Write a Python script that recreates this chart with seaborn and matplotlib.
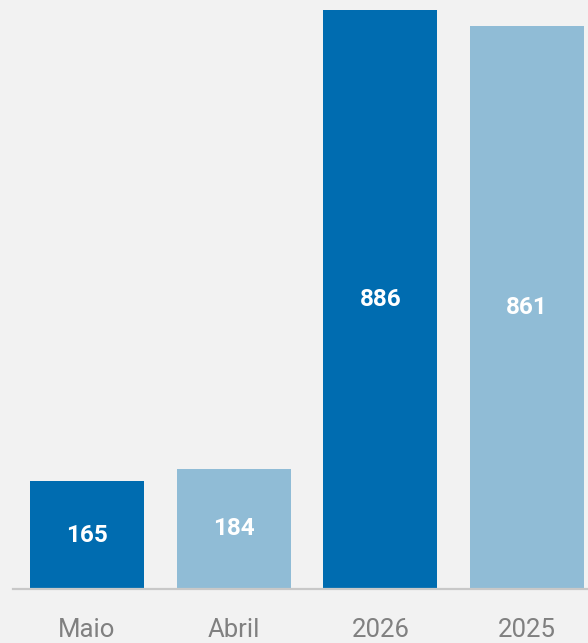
import matplotlib
matplotlib.use("Agg")
from matplotlib import pyplot as plt
import pandas as pd
import seaborn as sns

categories = ["Maio", "Abril", "2026", "2025"]
values = [165, 184, 886, 861]
bar_colors = ["#006cb0", "#90bcd6", "#006cb0", "#90bcd6"]

df = pd.DataFrame({"periodo": categories, "total": values})

sns.set_style("white")
plt.rcParams["font.family"] = ["Roboto", "DejaVu Sans"]

bg = "#f2f2f2"
fig = plt.figure(figsize=(5.88, 6.43), dpi=100, facecolor=bg)
ax = fig.add_axes([13 / 588, 54 / 643, 575 / 588, 589 / 643])
ax.set_facecolor(bg)

sns.barplot(data=df, x="periodo", y="total", hue="periodo", palette=bar_colors,
            width=0.777, legend=False, saturation=1, linewidth=0, ax=ax)

ax.set_xlim(-0.5045, 3.416)
ax.set_ylim(0, 901.3)

for i, v in enumerate(values):
    ax.text(i, v / 2, str(v), ha="center", va="center", color="white",
            fontsize=17.5, fontweight="bold")

for s in ["top", "right", "left"]:
    ax.spines[s].set_visible(False)
ax.spines["bottom"].set_color("#c8c8c8")
ax.spines["bottom"].set_linewidth(1.6)
ax.spines["bottom"].set_zorder(3)
ax.set_yticks([])
ax.set_xlabel("")
ax.set_ylabel("")
ax.tick_params(axis="x", length=0, pad=21, labelsize=18.5, labelcolor="#808080")

fig.savefig("out.png", dpi=100, facecolor=bg)
